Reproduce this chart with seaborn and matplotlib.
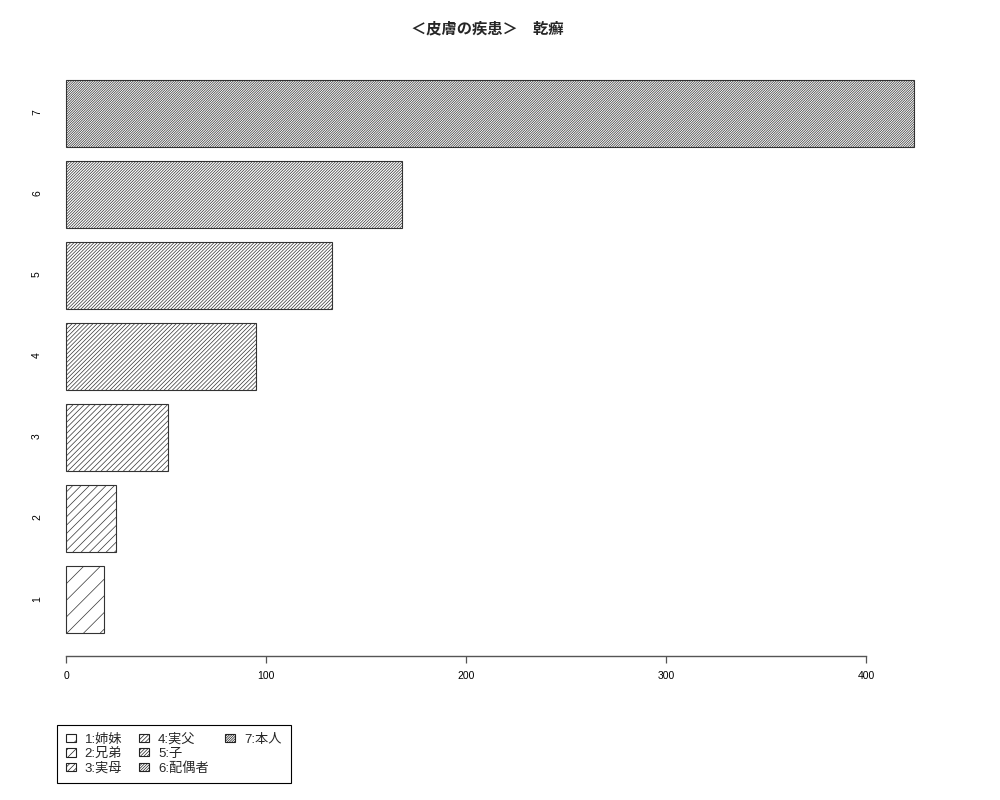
import matplotlib
matplotlib.use("Agg")
import matplotlib.pyplot as plt
from matplotlib.patches import Patch
import seaborn as sns
import pandas as pd

# ---- data ----
categories = ["1", "2", "3", "4", "5", "6", "7"]
values = [19, 25, 51, 95, 133, 168, 424]
legend_labels = ["1:姉妹", "2:兄弟", "3:実母", "4:実父", "5:子", "6:配偶者", "7:本人"]
title_text = "＜皮膚の疾患＞　乾癬"
x_ticks = [0, 100, 200, 300, 400]

sns.set_style("white")
plt.rcParams["font.family"] = ["Liberation Sans", "Noto Sans CJK JP", "DejaVu Sans"]
plt.rcParams["hatch.linewidth"] = 0.5

df = pd.DataFrame({"cat": categories, "val": values})
order = categories[::-1]  # top to bottom: 7 ... 1

fig = plt.figure(figsize=(10, 8), dpi=100)
ax = fig.add_axes([0.0233, 0.1805, 0.9335, 0.74775])

sns.barplot(data=df, x="val", y="cat", order=order, orient="h", color="white",
            width=1 / 1.2, edgecolor="#333333", linewidth=0.8, saturation=1, ax=ax)

for p in ax.patches:
    idx = int(round(p.get_y() + p.get_height() / 2))
    lab = order[idx]
    p.set_hatch("/" * (2 * int(lab)))
    p.set_facecolor("white")
    p.set_edgecolor("#333333")

ax.set_xlim(-21.37, 445.37)
ax.set_ylim(6.69, -0.69)
ax.set_xlabel("")
ax.set_ylabel("")
ax.set_xticks(x_ticks)
ax.set_xticklabels([str(t) for t in x_ticks])

for s in ["top", "right", "left"]:
    ax.spines[s].set_visible(False)
ax.spines["bottom"].set_bounds(0, 400)
ax.spines["bottom"].set_color("#555555")
ax.spines["bottom"].set_linewidth(1.0)

ax.tick_params(axis="x", bottom=True, length=5, width=0.9, color="#555555",
               labelsize=7.5, pad=6, labelcolor="black")
ax.tick_params(axis="y", left=False, length=0, labelsize=7.5, pad=-13.5,
               labelrotation=90, labelcolor="black")

fig.text(0.487, 1 - 29 / 800, title_text, ha="center", va="center",
         fontsize=11, fontweight="bold")

handles = [Patch(facecolor="white", edgecolor="#222222", hatch="/" * (2 * (i + 1)),
                 linewidth=0.8) for i in range(len(legend_labels))]
labels = list(legend_labels)
# pad to 3x3 so columns fill as 3,3,1
handles += [Patch(facecolor="none", edgecolor="none")] * 2
labels += ["", ""]
leg = fig.legend(handles, labels, loc="upper left",
                 bbox_to_anchor=(0.057, 1 - 725 / 800), ncol=3,
                 frameon=True, fancybox=False, edgecolor="black", framealpha=1,
                 fontsize=9.5, handlelength=0.76, handleheight=0.6,
                 handletextpad=0.68, columnspacing=1.27, labelspacing=0.15,
                 borderpad=0.65, borderaxespad=0)
leg.get_frame().set_linewidth(0.8)

fig.savefig("out.png", dpi=100)
